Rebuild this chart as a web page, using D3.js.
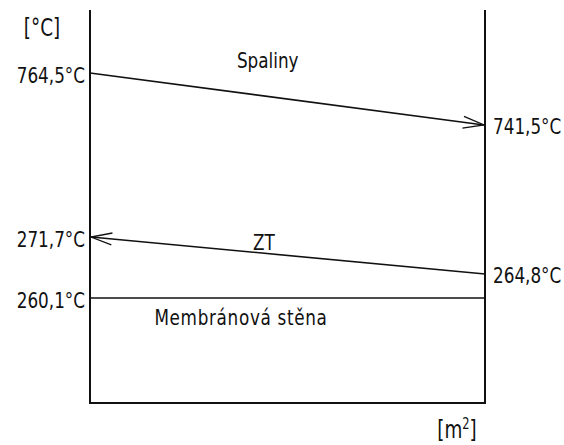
<!DOCTYPE html>
<html>
<head>
<meta charset="utf-8">
<script src="https://cdn.jsdelivr.net/npm/d3@7"></script>
<style>
  body { margin: 0; background: #fff; }
  text { font-family: "DejaVu Sans Condensed", "DejaVu Sans", sans-serif; fill: #111; }
</style>
</head>
<body>
<div id="chart"></div>
<script>
// proudy a jejich teploty (vlevo = x 0, vpravo = x 1)
const streams = ["Spaliny", "ZT", "Membránová stěna"];
const tempLeft = [764.5, 271.7, 260.1];
const tempRight = [741.5, 264.8, 260.1];
const flowDir = ["right", "left", "none"];
const leftLabels = ["764,5°C", "271,7°C", "260,1°C"];
const rightLabels = ["741,5°C", "264,8°C", ""];
const yUnit = "[°C]";
const xUnit = "m";

const width = 564;
const height = 445;
const fs = 22;

const svg = d3.select('#chart')
    .append('svg')
    .attr('width', width)
    .attr('height', height);

// osa x - plocha (pomerna)
const xScale = d3.scaleLinear()
    .domain([0, 1])
    .range([90, 485]);

// osa y - schematicka, po usecich
const yScale = d3.scaleLinear()
    .domain([240, 260.1, 264.8, 271.7, 741.5, 764.5, 800])
    .range([403, 298, 274, 237, 125, 73, 10]);

// uzky technicky text (pismo stlacene do sirky)
function label(x, y, str, anchor, size) {
    return svg.append('g')
        .attr('transform', `translate(${x},${y}) scale(0.85,1)`)
        .append('text')
        .attr('text-anchor', anchor || 'start')
        .attr('font-size', size || fs)
        .text(str);
}

// sipky
svg.append('defs').append('marker')
    .attr('id', 'arrow')
    .attr('viewBox', '-22 -8 24 16')
    .attr('refX', 0)
    .attr('refY', 0)
    .attr('markerWidth', 24)
    .attr('markerHeight', 16)
    .attr('markerUnits', 'userSpaceOnUse')
    .attr('orient', 'auto')
    .append('path')
    .attr('d', 'M-21,-6 L0,0 L-21,6')
    .attr('fill', 'none')
    .attr('stroke', '#111')
    .attr('stroke-width', 1.3);

// ramecek (bez horni strany)
const dom = yScale.domain();
const yMin = dom[0], yMax = dom[dom.length - 1];
svg.append('path')
    .attr('d', `M${xScale(0)},${yScale(yMax)} L${xScale(0)},${yScale(yMin)} L${xScale(1)},${yScale(yMin)} L${xScale(1)},${yScale(yMax)}`)
    .attr('fill', 'none')
    .attr('stroke', '#111')
    .attr('stroke-width', 2);

streams.forEach((name, i) => {
    const x1 = xScale(0), y1 = yScale(tempLeft[i]);
    const x2 = xScale(1), y2 = yScale(tempRight[i]);
    const line = svg.append('line')
        .attr('stroke', '#111')
        .attr('stroke-width', 1.6);
    if (flowDir[i] == "left") {
        line.attr('x1', x2).attr('y1', y2).attr('x2', x1 + 1).attr('y2', y1)
            .attr('marker-end', 'url(#arrow)');
    } else if (flowDir[i] == "right") {
        line.attr('x1', x1).attr('y1', y1).attr('x2', x2 - 1).attr('y2', y2)
            .attr('marker-end', 'url(#arrow)');
    } else {
        line.attr('x1', x1).attr('y1', y1).attr('x2', x2).attr('y2', y2);
    }

    label(x1 - 5, y1 + 10, leftLabels[i], 'end');
    if (rightLabels[i] != "") {
        label(x2 + 8, y2 + 9, rightLabels[i]);
    }
});

// popisky proudu
label(xScale(0.45), yScale((tempLeft[0] + tempRight[0]) / 2) - 31, streams[0], 'middle');
label(xScale(0.44), yScale((tempLeft[1] + tempRight[1]) / 2) - 6, streams[1], 'middle');
label(xScale(0.163), yScale(tempLeft[2]) + 27, streams[2])
    .attr('letter-spacing', 0.8);

// jednotky
label(42, 36, yUnit, 'middle', 24);
const xu = label(457, 438, null, 'middle', 24);
xu.append('tspan').text('[' + xUnit);
xu.append('tspan').attr('dy', -9).attr('font-size', 15).text('2');
xu.append('tspan').attr('dy', 9).text(']');
</script>
</body>
</html>
